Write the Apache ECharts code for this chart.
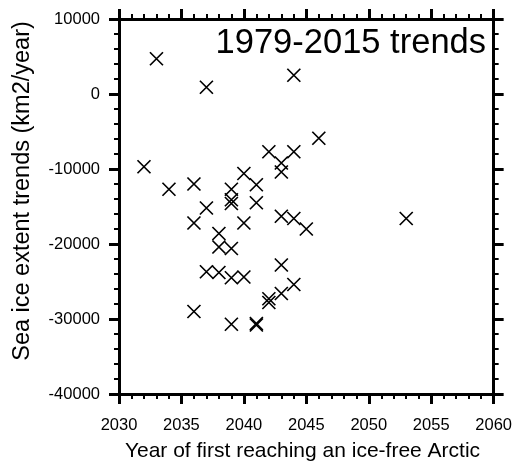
<!DOCTYPE html>
<html>
<head>
<meta charset="utf-8">
<script src="https://cdn.jsdelivr.net/npm/echarts@6/dist/echarts.min.js"></script>
<style>
  html, body { margin: 0; padding: 0; background: #fff; }
  #chart { width: 515px; height: 461px; }
</style>
</head>
<body>
<div id="chart"></div>
<script>
// Year each ensemble member first becomes ice-free, and its 1979-2015 sea ice extent trend
const years = [
  2033, 2037, 2044, 2032, 2034, 2036, 2037, 2036, 2038, 2038,
  2039, 2046, 2042, 2044, 2043, 2043, 2040, 2041, 2039, 2039,
  2039, 2041, 2040, 2043, 2044, 2045, 2053, 2043, 2044, 2043,
  2042, 2042, 2037, 2038, 2039, 2040, 2036, 2039, 2041, 2041
];
const trends = [
  4700, 900, 2500, -9700, -12700, -12000, -15200, -17200, -18600, -20400,
  -20600, -5900, -7700, -7700, -9200, -10400, -10600, -12100, -12700, -14100,
  -14600, -14500, -17200, -16300, -16600, -18000, -16600, -22800, -25400, -26600,
  -27300, -27800, -23700, -23800, -24500, -24400, -29000, -30700, -30600, -30800
];
const xTicks = [2030, 2035, 2040, 2045, 2050, 2055, 2060];
const yTicks = [-40000, -30000, -20000, -10000, 0, 10000];
const titleText = '1979-2015 trends';
const xTitle = 'Year of first reaching an ice-free Arctic';
const yTitle = 'Sea ice extent trends (km2/year)';

const FONT = '"Liberation Sans", Arial, Helvetica, sans-serif';
const points = years.map((y, i) => [y, trends[i]]);

function axisCommon() {
  return {
    type: 'value',
    axisLine: { show: true, onZero: false, lineStyle: { color: '#000', width: 3 } },
    axisTick: { show: true, inside: false, length: 10, lineStyle: { color: '#000', width: 3 } },
    minorTick: { show: true, splitNumber: 5, length: 5, lineStyle: { color: '#000', width: 2 } },
    splitLine: { show: false },
    minorSplitLine: { show: false },
    axisLabel: { show: false }
  };
}

const xMin = xTicks[0], xMax = xTicks[xTicks.length - 1];
const yMin = yTicks[0], yMax = yTicks[yTicks.length - 1];
const xStep = xTicks[1] - xTicks[0], yStep = yTicks[1] - yTicks[0];
const plain = v => String(v);

const chart = echarts.init(document.getElementById('chart'), null, { renderer: 'canvas' });
chart.setOption({
  animation: false,
  backgroundColor: '#fff',
  title: {
    text: titleText,
    right: 29, top: 26, padding: 0,
    textStyle: { fontSize: 34.5, fontWeight: 'normal', color: '#000', fontFamily: FONT }
  },
  grid: { left: 119, top: 19, width: 375, height: 375, containLabel: false },
  xAxis: [
    Object.assign(axisCommon(), {
      position: 'bottom', min: xMin, max: xMax, interval: xStep,
      axisLabel: { show: true, color: '#000', fontSize: 16.5, fontFamily: FONT, margin: 23, formatter: plain }
    }),
    Object.assign(axisCommon(), {
      position: 'top', min: xMin, max: xMax, interval: xStep
    })
  ],
  yAxis: [
    Object.assign(axisCommon(), {
      position: 'left', min: yMin, max: yMax, interval: yStep,
      axisLabel: { show: true, color: '#000', fontSize: 16.5, fontFamily: FONT, margin: 19, formatter: plain }
    }),
    Object.assign(axisCommon(), {
      position: 'right', min: yMin, max: yMax, interval: yStep
    })
  ],
  graphic: [
    {
      type: 'text', x: 302.5, y: 451,
      style: { text: xTitle, font: '21px ' + FONT, fill: '#000', align: 'center', verticalAlign: 'middle' }
    },
    {
      type: 'text', x: 22.5, y: 191, rotation: Math.PI / 2,
      style: { text: yTitle, font: '23.5px ' + FONT, fill: '#000', align: 'center', verticalAlign: 'middle' }
    }
  ],
  series: [{
    type: 'scatter',
    xAxisIndex: 0, yAxisIndex: 0,
    data: points,
    symbol: 'path://M0,0L10,10M10,0L0,10',
    symbolSize: 13,
    itemStyle: { color: 'transparent', borderColor: '#000', borderWidth: 1.7, opacity: 1 },
    emphasis: { disabled: true }
  }]
});
</script>
</body>
</html>
